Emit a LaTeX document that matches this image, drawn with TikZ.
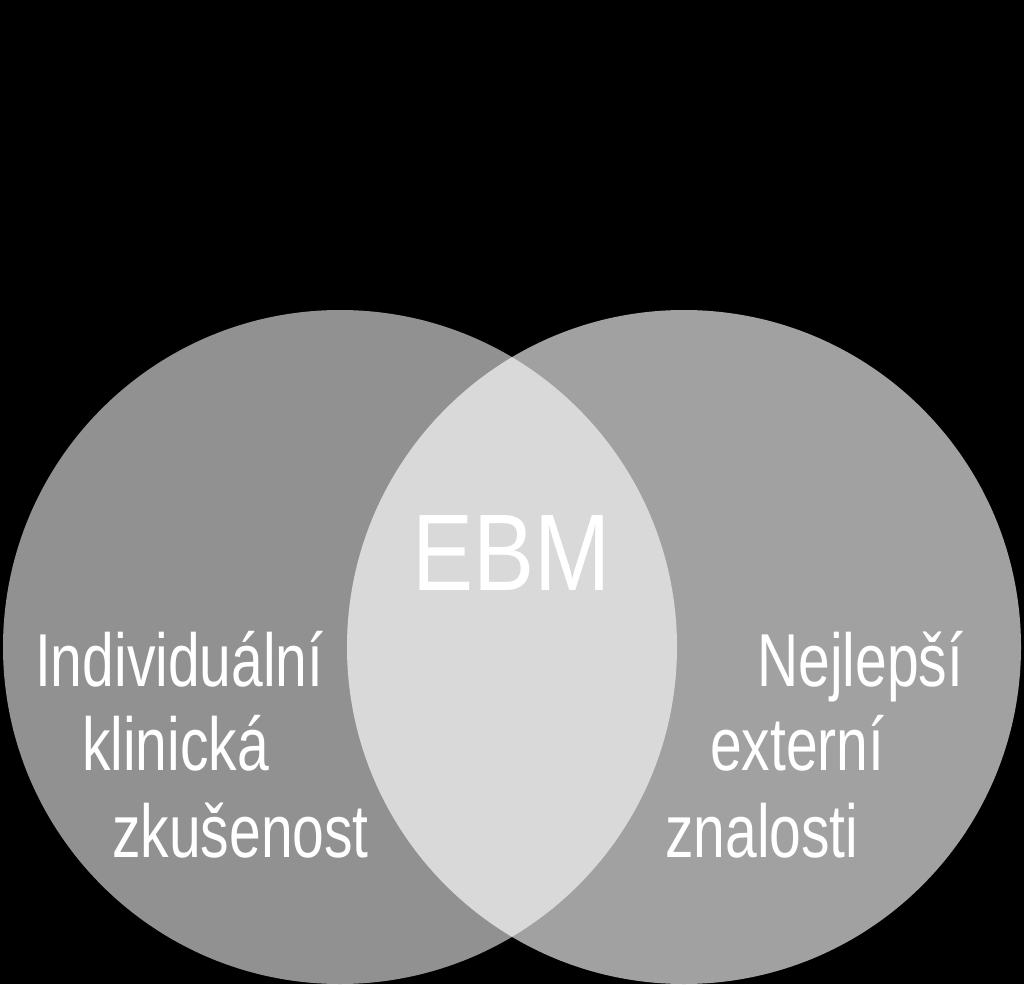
\documentclass[tikz,border=0pt]{standalone}
\usepackage{fontspec}
\setmainfont{Liberation Sans}
\definecolor{lc}{gray}{0.57}
\definecolor{rc}{gray}{0.63}
\definecolor{lens}{gray}{0.85}
\begin{document}
\begin{tikzpicture}[x=1pt,y=-1pt,
  side/.style={text=white,inner sep=0pt,anchor=base west,font=\fontsize{75}{80}\selectfont,xscale=0.76},
  big/.style={text=white,inner sep=0pt,anchor=base,font=\fontsize{109}{110}\selectfont,xscale=0.84}]
\fill[black] (0,0) rectangle (1024,984);
\useasboundingbox (0,0) rectangle (1024,984);
\coordinate (cl) at (340,647);
\coordinate (cr) at (684,647);
\fill[lc] (cl) circle[radius=337];
\fill[rc] (cr) circle[radius=337];
\begin{scope}
  \clip (cl) circle[radius=337];
  \fill[lens] (cr) circle[radius=337];
\end{scope}
\node[big] (ebm) at (512,590) {EBM};
\node[side] (l1) at (35,686) {Individuální};
\node[side] (l2) at (82,770) {klinická};
\node[side] (l3) at (112,857) {zkušenost};
\node[side] (r1) at (757,686) {Nejlepší};
\node[side] (r2) at (710,770) {externí};
\node[side] (r3) at (665,857) {znalosti};
\end{tikzpicture}
\end{document}
